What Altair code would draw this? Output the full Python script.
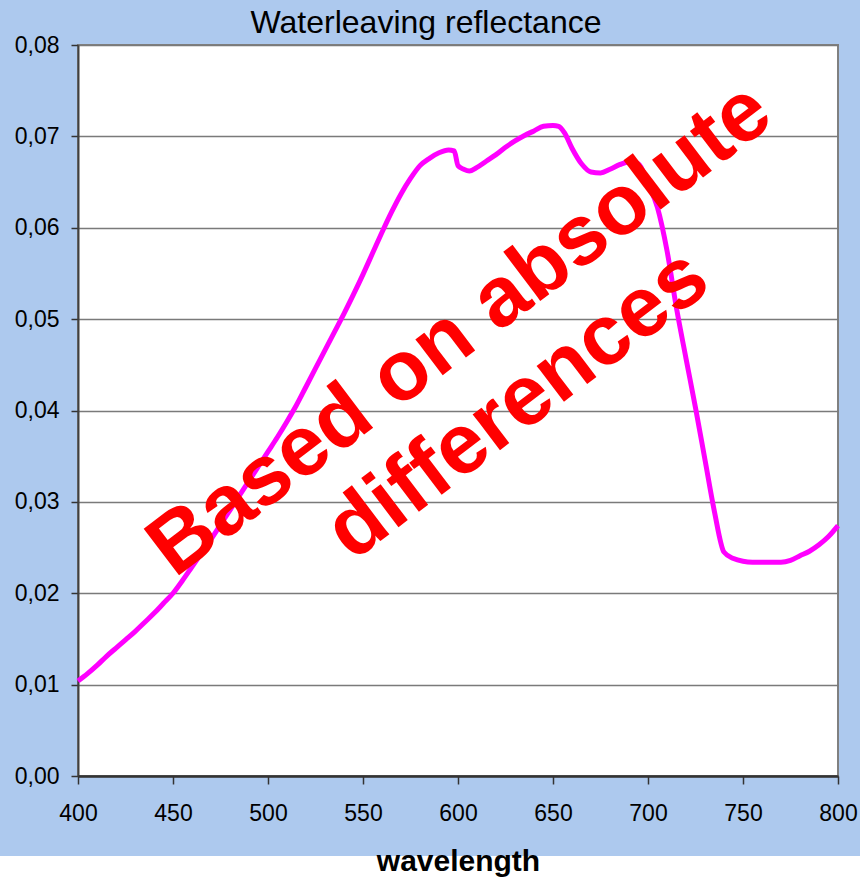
import altair as alt
import pandas as pd

# ---- data ----
wavelength = [400, 405, 410, 415, 420, 425, 430, 435, 440, 445, 450, 455, 460, 465, 470,
              475, 480, 485, 490, 495, 500, 505, 510, 515, 520, 525, 530, 535, 540, 545,
              550, 555, 560, 565, 570, 575, 580, 585, 590, 595, 598, 600, 603, 606, 610,
              615, 620, 625, 630, 635, 640, 645, 650, 653, 656, 660, 665, 670, 675, 680,
              685, 690, 695, 700, 705, 710, 715, 720, 725, 730, 735, 740, 745, 750, 755,
              760, 765, 770, 775, 780, 785, 790, 795, 800]
reflectance = [0.0104, 0.0112, 0.0121, 0.0131, 0.0140, 0.0149, 0.0158, 0.0168, 0.0178, 0.0189,
               0.0200, 0.0214, 0.0229, 0.0244, 0.0259, 0.0275, 0.0291, 0.0307, 0.0323, 0.0339,
               0.0355, 0.0371, 0.0388, 0.0406, 0.0426, 0.0446, 0.0466, 0.0486, 0.0506, 0.0527,
               0.0549, 0.0572, 0.0595, 0.0617, 0.0637, 0.0654, 0.0668, 0.0676, 0.0682, 0.0685,
               0.0684, 0.0668, 0.0664, 0.0662, 0.0666, 0.0673, 0.0680, 0.0688, 0.0695, 0.0701,
               0.0706, 0.0711, 0.0712, 0.0711, 0.0704, 0.0687, 0.0670, 0.0661, 0.0660, 0.0664,
               0.0669, 0.0672, 0.0670, 0.0648, 0.0622, 0.0575, 0.0512, 0.0457, 0.0403, 0.0346,
               0.0289, 0.0245, 0.0238, 0.0235, 0.0234, 0.0234, 0.0234, 0.0234, 0.0236, 0.0241,
               0.0246, 0.0253, 0.0262, 0.0274]

x_ticks = [400, 450, 500, 550, 600, 650, 700, 750, 800]
y_ticks = [0.0, 0.01, 0.02, 0.03, 0.04, 0.05, 0.06, 0.07, 0.08]

note_lines = ["Based on absolute", "differences"]
note_x = [609.2, 639.5]
note_y = [0.0466, 0.0384]

FONT = "Liberation Sans"
BLUE = "#ADC9EE"

df = pd.DataFrame({"wavelength": wavelength, "reflectance": reflectance})
notes = pd.DataFrame({"x": note_x, "y": note_y, "text": note_lines})

xscale = alt.Scale(domain=[400, 800], nice=False, zero=False)
yscale = alt.Scale(domain=[0, 0.08], nice=False)

x_axis = alt.Axis(
    values=x_ticks, grid=False, labelFlush=False, labelOverlap=False,
    labelFont=FONT, labelFontSize=23, labelColor="black", labelPadding=18,
    tickSize=8, tickColor="#333333", tickWidth=1.5,
    domainColor="#333333", domainWidth=2.5,
    title="wavelength", titleFont=FONT, titleFontSize=30, titleFontWeight="bold",
    titleColor="black", titlePadding=21, zindex=1,
)
y_axis = alt.Axis(
    values=y_ticks, grid=True, gridColor="#7a7a7a", gridWidth=1.5,
    labelExpr="replace(format(datum.value, '.2f'), '.', ',')",
    labelFont=FONT, labelFontSize=23, labelColor="black", labelPadding=12,
    tickSize=7, tickColor="#333333", tickWidth=1.5,
    domainColor="#404040", domainWidth=2, title=None,
)

# white strip at the bottom of the picture (decoration behind the axis title)
strip = alt.Chart(pd.DataFrame({"k": [0]})).mark_rect(color="white").encode(
    x=alt.value(-78), x2=alt.value(782), y=alt.value(811), y2=alt.value(840)
)

line = alt.Chart(df).mark_line(color="#FF00FF", strokeWidth=5, interpolate="monotone").encode(
    x=alt.X("wavelength:Q", scale=xscale, axis=x_axis),
    y=alt.Y("reflectance:Q", scale=yscale, axis=y_axis),
)

text = alt.Chart(notes).mark_text(
    font=FONT, fontSize=85, fontWeight="bold", color="#FF0000",
    angle=322.8, align="center", baseline="alphabetic",
).encode(
    x=alt.X("x:Q", scale=xscale),
    y=alt.Y("y:Q", scale=yscale),
    text="text:N",
)

chart = alt.layer(strip, line, text).properties(
    width=760, height=731,
    autosize=alt.AutoSizeParams(type="none"),
    padding={"left": 78, "top": 45, "right": 22, "bottom": 104},
    background=BLUE,
    title=alt.TitleParams(
        "Waterleaving reflectance", font=FONT, fontSize=32, fontWeight="normal",
        color="black", anchor="middle", frame="group", dx=-32, dy=14, offset=8,
    ),
).configure_view(fill="white", stroke="#808080", strokeWidth=2)

chart.save("out.html", embed_options={"renderer": "svg", "actions": False})
